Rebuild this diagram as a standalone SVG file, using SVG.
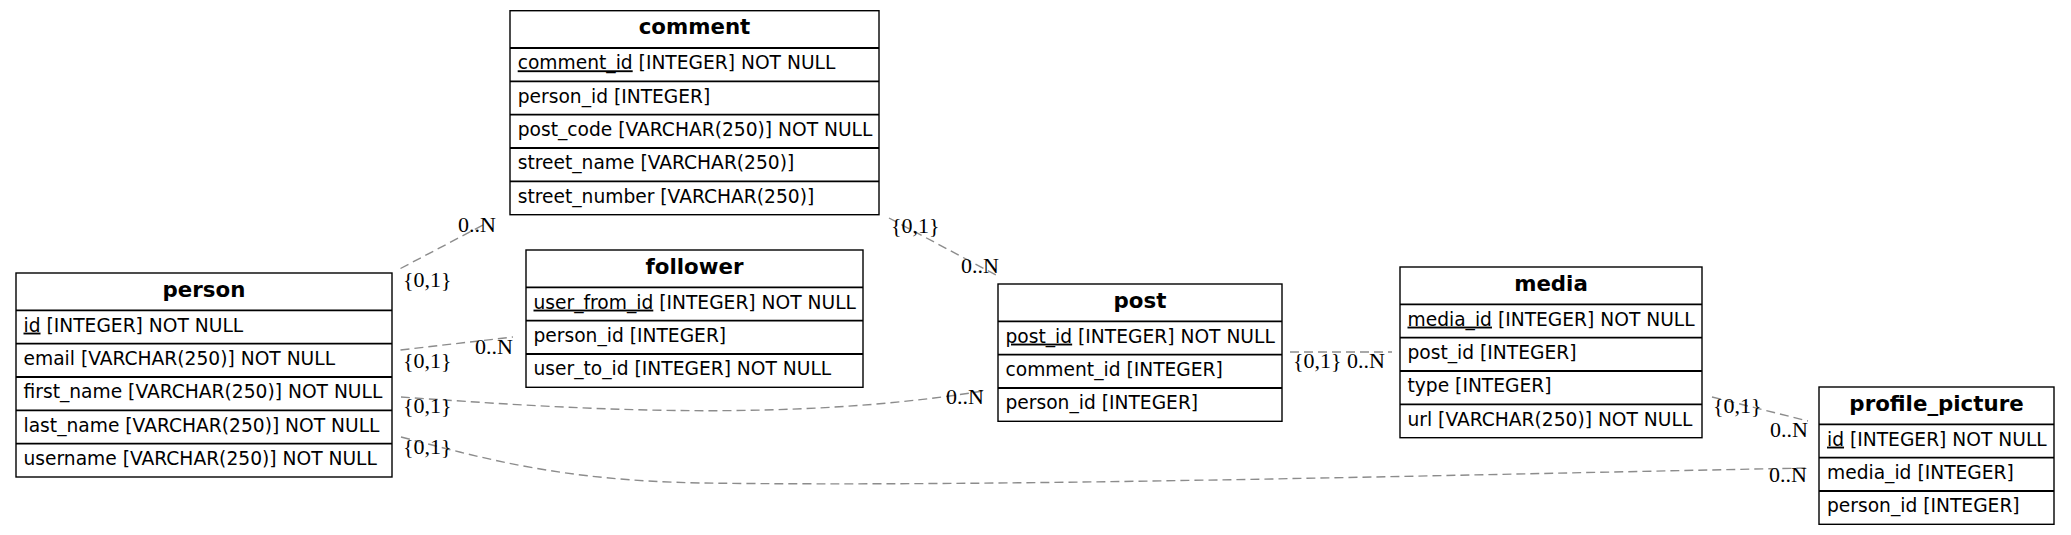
<svg xmlns="http://www.w3.org/2000/svg" width="2071" height="535" viewBox="0 0 2071 535">
<style>
.box{fill:#fff;stroke:#000;stroke-width:1.4}
.sep{stroke:#000;stroke-width:1.8}
.hdr{font-family:"DejaVu Sans",Verdana,sans-serif;font-weight:bold;font-size:21.33px;text-anchor:middle;fill:#000}
.col{font-family:"DejaVu Sans",Verdana,sans-serif;font-size:18.67px;fill:#000}
.pk{text-decoration:underline}
.lbl{font-family:"Liberation Serif","Times New Roman",serif;font-size:22px;fill:#000}
.edge{fill:none;stroke:#8c8c8c;stroke-width:1.4;stroke-dasharray:9,5}
</style>
<rect width="2071" height="535" fill="#fff"/>
<g id="connectors">
<path class="edge" d="M400.5,268.5 L487,223"/>
<path class="edge" d="M400.5,350 L513,337"/>
<path class="edge" d="M401,397 C560,408 780,424 983,391"/>
<path class="edge" d="M401,437 C490,460 560,480 700,483 C1000,487 1400,476 1808,468"/>
<path class="edge" d="M889,218 L996,275"/>
<path class="edge" d="M1290,352 L1392,352"/>
<path class="edge" d="M1712,397 L1808,421"/>
<text class="lbl" x="403" y="287">{0,1}</text>
<text class="lbl" x="458" y="232">0..N</text>
<text class="lbl" x="403" y="368">{0,1}</text>
<text class="lbl" x="475" y="354">0..N</text>
<text class="lbl" x="403" y="413">{0,1}</text>
<text class="lbl" x="946" y="404">0..N</text>
<text class="lbl" x="403" y="454">{0,1}</text>
<text class="lbl" x="1769" y="482">0..N</text>
<text class="lbl" x="891" y="233">{0,1}</text>
<text class="lbl" x="961" y="273">0..N</text>
<text class="lbl" x="1293" y="368">{0,1}</text>
<text class="lbl" x="1347" y="368">0..N</text>
<text class="lbl" x="1713" y="413">{0,1}</text>
<text class="lbl" x="1770" y="437">0..N</text>
</g>
<g id="person">
<rect class="box" x="16" y="273" width="376" height="204"/>
<path class="sep" d="M16,310.3H392M16,343.7H392M16,377H392M16,410.3H392M16,443.7H392"/>
<text class="hdr" x="204" y="296.6">person</text>
<text class="col" x="23.5" y="331.6"><tspan class="pk">id</tspan> [INTEGER] NOT NULL</text>
<text class="col" x="23.5" y="365">email [VARCHAR(250)] NOT NULL</text>
<text class="col" x="23.5" y="398.3">first_name [VARCHAR(250)] NOT NULL</text>
<text class="col" x="23.5" y="431.6">last_name [VARCHAR(250)] NOT NULL</text>
<text class="col" x="23.5" y="465">username [VARCHAR(250)] NOT NULL</text>
</g>
<g id="comment">
<rect class="box" x="510" y="10.7" width="369" height="204"/>
<path class="sep" d="M510,48H879M510,81.3H879M510,114.7H879M510,148H879M510,181.3H879"/>
<text class="hdr" x="694.5" y="34.3">comment</text>
<text class="col" x="517.7" y="69.3"><tspan class="pk">comment_id</tspan> [INTEGER] NOT NULL</text>
<text class="col" x="517.7" y="102.6">person_id [INTEGER]</text>
<text class="col" x="517.7" y="136">post_code [VARCHAR(250)] NOT NULL</text>
<text class="col" x="517.7" y="169.3">street_name [VARCHAR(250)]</text>
<text class="col" x="517.7" y="202.6">street_number [VARCHAR(250)]</text>
</g>
<g id="follower">
<rect class="box" x="526" y="250" width="337" height="137.3"/>
<path class="sep" d="M526,287.3H863M526,320.7H863M526,354H863"/>
<text class="hdr" x="694.5" y="273.6">follower</text>
<text class="col" x="533.5" y="308.6"><tspan class="pk">user_from_id</tspan> [INTEGER] NOT NULL</text>
<text class="col" x="533.5" y="342">person_id [INTEGER]</text>
<text class="col" x="533.5" y="375.3">user_to_id [INTEGER] NOT NULL</text>
</g>
<g id="post">
<rect class="box" x="998" y="284" width="284" height="137.3"/>
<path class="sep" d="M998,321.3H1282M998,354.7H1282M998,388H1282"/>
<text class="hdr" x="1140" y="307.6">post</text>
<text class="col" x="1005.5" y="342.6"><tspan class="pk">post_id</tspan> [INTEGER] NOT NULL</text>
<text class="col" x="1005.5" y="376">comment_id [INTEGER]</text>
<text class="col" x="1005.5" y="409.3">person_id [INTEGER]</text>
</g>
<g id="media">
<rect class="box" x="1400" y="267" width="302" height="170.7"/>
<path class="sep" d="M1400,304.3H1702M1400,337.7H1702M1400,371H1702M1400,404.3H1702"/>
<text class="hdr" x="1551" y="290.6">media</text>
<text class="col" x="1407.5" y="325.6"><tspan class="pk">media_id</tspan> [INTEGER] NOT NULL</text>
<text class="col" x="1407.5" y="359">post_id [INTEGER]</text>
<text class="col" x="1407.5" y="392.3">type [INTEGER]</text>
<text class="col" x="1407.5" y="425.6">url [VARCHAR(250)] NOT NULL</text>
</g>
<g id="profile_picture">
<rect class="box" x="1819" y="387" width="235" height="137.3"/>
<path class="sep" d="M1819,424.3H2054M1819,457.7H2054M1819,491H2054"/>
<text class="hdr" x="1936.5" y="410.6">profile_picture</text>
<text class="col" x="1827" y="445.6"><tspan class="pk">id</tspan> [INTEGER] NOT NULL</text>
<text class="col" x="1827" y="479">media_id [INTEGER]</text>
<text class="col" x="1827" y="512.3">person_id [INTEGER]</text>
</g>
</svg>
